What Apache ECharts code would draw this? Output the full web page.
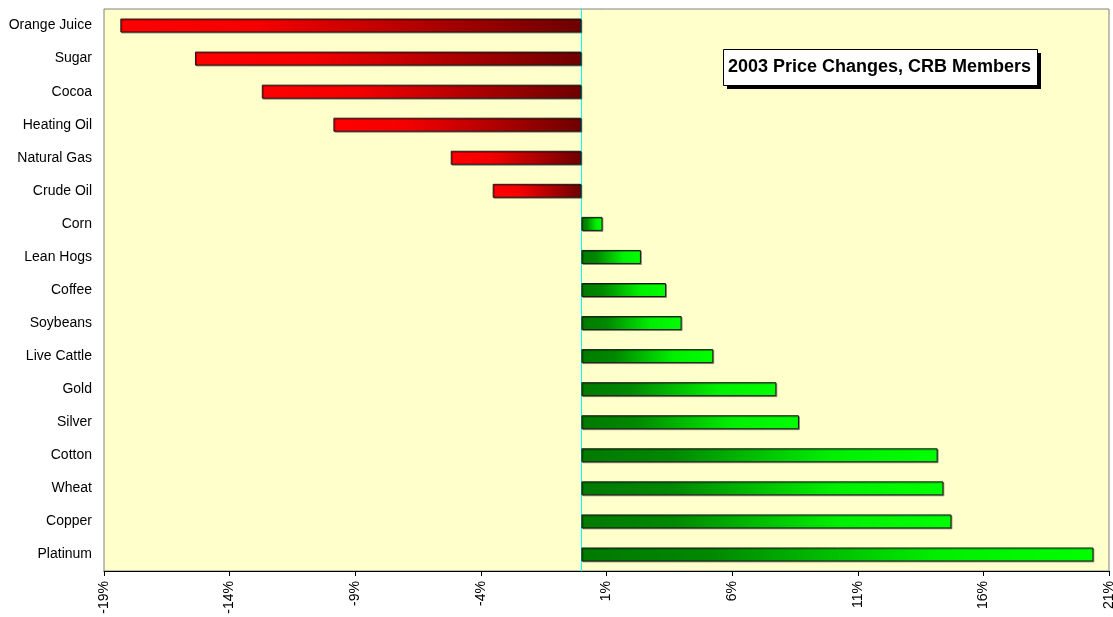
<!DOCTYPE html>
<html>
<head>
<meta charset="utf-8">
<script src="https://cdn.jsdelivr.net/npm/echarts@6/dist/echarts.min.js"></script>
<style>
html,body{margin:0;padding:0;background:#fff;}
#chart{width:1113px;height:617px;}
</style>
</head>
<body>
<div id="chart"></div>
<script>
// Data (top to bottom as shown)
const categories = ['Orange Juice','Sugar','Cocoa','Heating Oil','Natural Gas','Crude Oil','Corn','Lean Hogs','Coffee','Soybeans','Live Cattle','Gold','Silver','Cotton','Wheat','Copper','Platinum'];
const changes = [-18.35, -15.38, -12.72, -9.87, -5.2, -3.53, 0.84, 2.37, 3.37, 3.99, 5.25, 7.76, 8.66, 14.18, 14.41, 14.73, 20.38];
const tickValues = [-19, -14, -9, -4, 1, 6, 11, 16, 21];
const chartTitle = '2003 Price Changes, CRB Members';

const FONT = 'Arial, "Liberation Sans", sans-serif';

const redGrad = new echarts.graphic.LinearGradient(0, 0, 1, 0, [
  {offset: 0, color: '#ff0000'},
  {offset: 0.3, color: '#f40000'},
  {offset: 1, color: '#6e0000'}
]);
const greenGrad = new echarts.graphic.LinearGradient(0, 0, 1, 0, [
  {offset: 0, color: '#007a00'},
  {offset: 0.25, color: '#008800'},
  {offset: 0.7, color: '#00f000'},
  {offset: 1, color: '#00ff00'}
]);

const barData = changes.map(v => ({
  value: v,
  itemStyle: {color: v < 0 ? redGrad : greenGrad}
}));

const chart = echarts.init(document.getElementById('chart'), null, {renderer: 'canvas'});
chart.setOption({
  backgroundColor: '#ffffff',
  animation: false,
  grid: {
    left: 104, right: 4, top: 9, bottom: 46,
    containLabel: false,
    outerBoundsMode: 'none',
    show: true,
    backgroundColor: '#ffffcc',
    borderColor: '#808080',
    borderWidth: 1
  },
  graphic: [
    {type: 'rect', left: 727, top: 53, z: 100,
     shape: {width: 314, height: 36}, style: {fill: '#000'}},
    {type: 'rect', left: 723, top: 49, z: 101,
     shape: {width: 314, height: 36}, style: {fill: '#fff', stroke: '#000', lineWidth: 1}},
    {type: 'text', left: 728, top: 58, z: 102,
     style: {text: chartTitle, font: 'bold 18px ' + FONT, fill: '#000'}}
  ],
  xAxis: {
    type: 'value',
    min: -19, max: 21,
    axisLine: {show: true, onZero: false, lineStyle: {color: '#000', width: 1}},
    axisTick: {show: true, length: 5, customValues: tickValues, lineStyle: {color: '#000'}},
    axisLabel: {
      customValues: tickValues,
      rotate: 90,
      margin: 10,
      fontFamily: FONT, fontSize: 14, color: '#000',
      formatter: v => v + '%'
    },
    splitLine: {show: false}
  },
  yAxis: {
    type: 'category',
    data: categories,
    inverse: true,
    axisLine: {show: true, onZero: true, lineStyle: {color: '#00ffff', width: 1}},
    axisTick: {show: false},
    axisLabel: {margin: 12, fontFamily: FONT, fontSize: 14, color: '#000'},
    splitLine: {show: false},
    z: 1
  },
  series: [{
    type: 'bar',
    data: barData,
    barWidth: 14,
    z: 3,
    itemStyle: {
      borderColor: '#1a1a1a',
      borderWidth: 1,
      shadowColor: 'rgba(0,0,0,0.35)',
      shadowOffsetX: 1,
      shadowOffsetY: 1,
      shadowBlur: 0
    }
  }]
});
</script>
</body>
</html>
